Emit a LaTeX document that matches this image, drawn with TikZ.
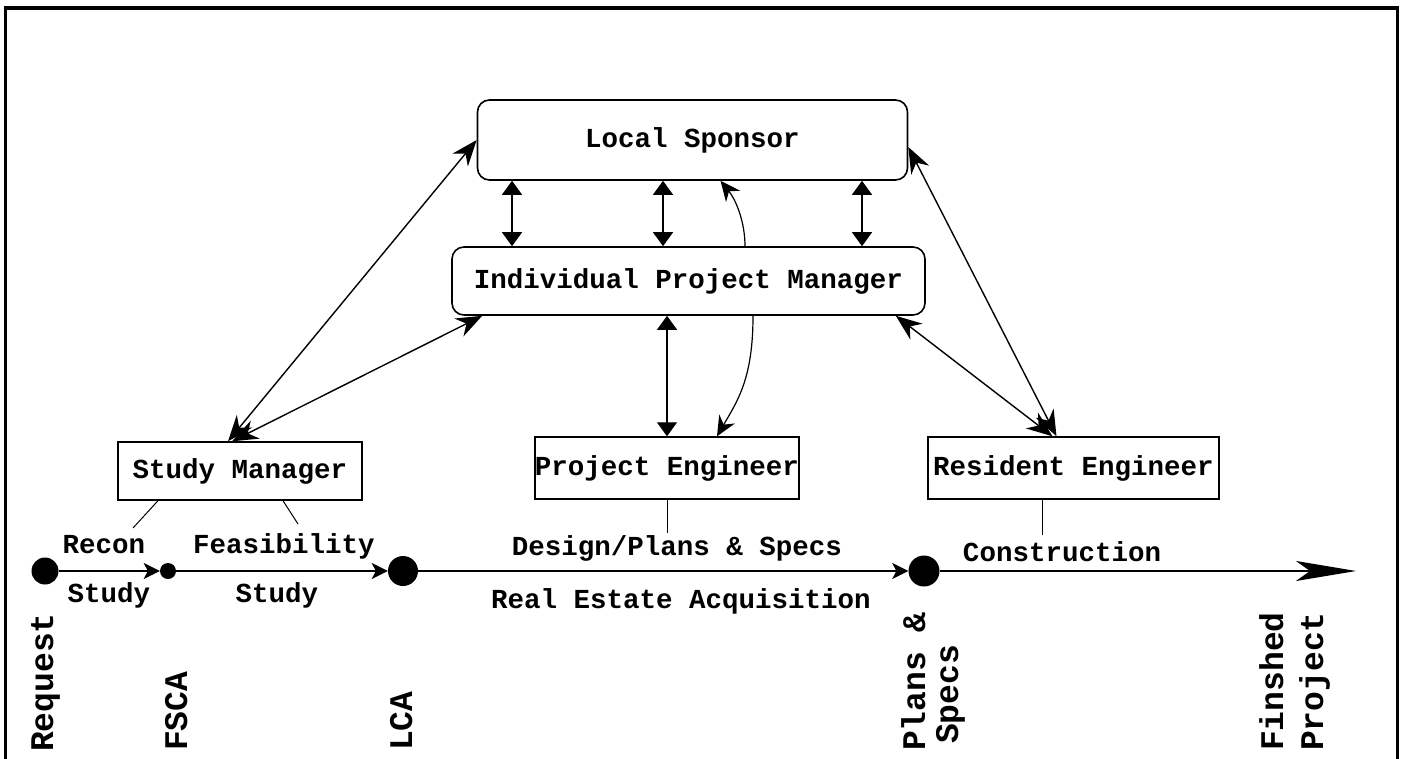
\documentclass[tikz,border=0pt]{standalone}
\usepackage{fontspec}
\setmonofont{Liberation Mono}
\usetikzlibrary{arrows.meta,calc}
\begin{document}
\begin{tikzpicture}[x=1pt,y=-1pt,
  lbl/.style={font=\fontsize{27.5}{30}\selectfont\ttfamily\bfseries, inner sep=0pt},
  tlbl/.style={lbl, anchor=base},
  rot/.style={font=\fontsize{33}{34}\selectfont\ttfamily\bfseries, rotate=90, anchor=base west, inner sep=0pt},
  rbox/.style={draw, line width=1.6pt, rounded corners=12pt, lbl},
  sbox/.style={draw, line width=1.4pt, lbl},
  vdbl/.style={line width=1.2pt, {Triangle[length=14pt,width=20pt]}-{Triangle[length=14pt,width=20pt]}},
  ddbl/.style={line width=1.4pt, {Stealth[length=26pt,width=20pt]}-{Stealth[length=26pt,width=20pt]}},
  curvarrow/.style={line width=1.2pt, -{Stealth[length=20pt,width=18pt]}},
  milestone/.style={circle, fill, inner sep=0pt},
  tline/.style={line width=2.2pt, -{Stealth[length=16pt,width=16pt,inset=4pt]}},
  link/.style={line width=1pt},
  frame/.style={line width=3.5pt}
]
\useasboundingbox (0,0) rectangle (1404,759);
% frame
\coordinate (fbl) at (5.5,759);
\coordinate (ftl) at (5.5,8);
\coordinate (ftr) at (1397.5,8);
\coordinate (fbr) at (1397.5,759);
\draw[frame] (fbl) -- (ftl) -- (ftr) -- (fbr);

% boxes
\node[rbox, minimum width=430pt, minimum height=80pt] (LS) at (692.5,140) {Local Sponsor};
\node[rbox, minimum width=473pt, minimum height=68pt] (IPM) at (688.5,281) {Individual Project Manager};
\node[sbox, minimum width=244pt, minimum height=58pt] (SM) at (240,471) {Study Manager};
\node[sbox, minimum width=240pt, minimum height=62pt] (PE) at (667,468) {Project Engineer};
\node[sbox, minimum width=291pt, minimum height=62pt] (RE) at (1073.5,468) {Resident Engineer};

% LS <-> IPM vertical arrows
\draw[vdbl] ([xshift=-180.5pt]LS.south) -- ([xshift=-180.5pt]LS.south |- IPM.north);
\draw[vdbl] ([xshift=-29.5pt]LS.south) -- ([xshift=-29.5pt]LS.south |- IPM.north);
\draw[vdbl] ([xshift=169.5pt]LS.south) -- ([xshift=169.5pt]LS.south |- IPM.north);
% IPM <-> PE
\draw[vdbl] (PE.north |- IPM.south) -- (PE.north);

% diagonal arrows
\draw[ddbl] (LS.west) -- ([xshift=-12pt]SM.north);
\draw[ddbl] ([xshift=31pt]IPM.south west) -- ([xshift=-8pt]SM.north);
\draw[ddbl] ([yshift=-7pt]LS.east) -- ([xshift=-17pt]RE.north);
\draw[ddbl] ([xshift=-30pt]IPM.south east) -- ([xshift=-21pt]RE.north);

% curved arrows
\draw[curvarrow] ([xshift=56.5pt]IPM.north) .. controls (745,222) and (736,200) .. ([xshift=28pt]LS.south);
\draw[curvarrow] ([xshift=64.5pt]IPM.south) .. controls (753,378) and (738,400) .. ([xshift=50pt]PE.north);

% timeline
\node[milestone, minimum size=27pt] (req) at (45,571) {};
\node[milestone, minimum size=16pt] (fsca) at (168,571) {};
\node[milestone, minimum size=30pt] (lca) at (403,571) {};
\node[milestone, minimum size=31pt] (ps) at (924,571) {};
\coordinate (tend) at (1356,571);
\draw[tline] (req) -- (fsca);
\draw[tline] (fsca) -- (lca);
\draw[tline] (lca) -- (ps);
\draw[line width=2.2pt, -{Stealth[length=60pt,width=20pt,inset=14pt]}] (ps) -- (tend);

% phase labels
\node[tlbl] (recon) at (104,553) {Recon};
\node[tlbl] (study1) at (109,602) {Study};
\node[tlbl] (feas) at (284,553) {Feasibility};
\node[tlbl] (study2) at (277,602) {Study};
\node[tlbl] (design) at (677,555) {Design/Plans \& Specs};
\node[tlbl] (realest) at (681,608) {Real Estate Acquisition};
\node[tlbl] (constr) at (1062,561) {Construction};

% links from boxes to phases
\coordinate (reconTip) at (133,528);
\coordinate (feasTip) at (298,524);
\draw[link] ([xshift=-82pt]SM.south) -- (reconTip);
\draw[link] ([xshift=43pt]SM.south) -- (feasTip);
\draw[link] (PE.south) -- (PE.south |- 0,533);
\draw[link] ([xshift=-31.5pt]RE.south) -- ([xshift=-31.5pt]RE.south |- 0,535);

% milestone labels
\node[rot] (lreq) at (53,752) {Request};
\node[rot] (lfsca) at (187,751) {FSCA};
\node[rot] (llca) at (412,751) {LCA};
\node[rot] (lplans) at (925,751) {Plans \&};
\node[rot] (lspecs) at (958,744) {Specs};
\node[rot] (lfin) at (1283,751) {Finshed};
\node[rot] (lproj) at (1323,751) {Project};
\end{tikzpicture}
\end{document}
